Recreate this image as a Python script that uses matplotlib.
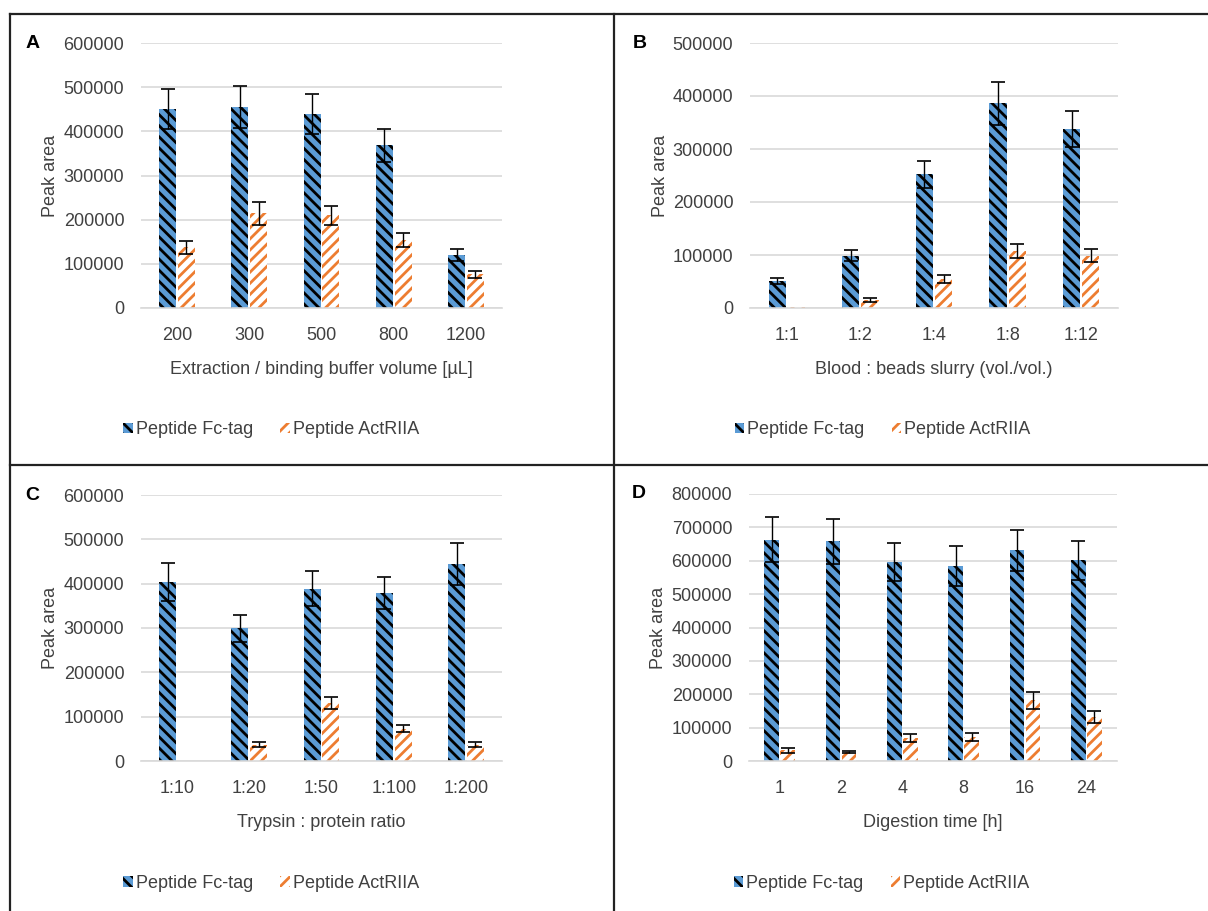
import numpy as np
import matplotlib.pyplot as plt
from matplotlib.lines import Line2D

plt.rcParams['font.family'] = ['Liberation Sans', 'DejaVu Sans']
plt.rcParams['hatch.linewidth'] = 2.0

series_names = ["Peptide Fc-tag", "Peptide ActRIIA"]

# Panel A
a_cats = ["200", "300", "500", "800", "1200"]
a_fc = [450000, 455000, 440000, 368000, 120000]
a_fc_err = [45000, 47000, 45000, 37000, 13000]
a_act = [137000, 215000, 210000, 154000, 76000]
a_act_err = [14000, 26000, 22000, 15000, 8000]

# Panel B
b_cats = ["1:1", "1:2", "1:4", "1:8", "1:12"]
b_fc = [51000, 99000, 252000, 386000, 337000]
b_fc_err = [5000, 11000, 25000, 40000, 34000]
b_act = [1000, 15000, 55000, 108000, 99000]
b_act_err = [np.nan, 3000, 8000, 13000, 12000]

# Panel C
c_cats = ["1:10", "1:20", "1:50", "1:100", "1:200"]
c_fc = [404000, 299000, 389000, 379000, 444000]
c_fc_err = [42000, 30000, 40000, 37000, 47000]
c_act = [0, 37000, 131000, 73000, 37000]
c_act_err = [np.nan, 6000, 14000, 8000, 5000]

# Panel D
d_cats = ["1", "2", "4", "8", "16", "24"]
d_fc = [663000, 658000, 596000, 585000, 631000, 601000]
d_fc_err = [67000, 67000, 58000, 60000, 62000, 59000]
d_act = [32000, 27000, 69000, 72000, 182000, 132000]
d_act_err = [7000, 3000, 12000, 11000, 25000, 17000]

blue = "#5B9BD5"
orange = "#ED7D31"
text_col = "#404040"
fs = 13

W, H = 1208, 911
fig = plt.figure(figsize=(W / 100, H / 100), dpi=100)


def px_axes(x0, y0, x1, y1):
    return fig.add_axes([x0 / W, 1 - y1 / H, (x1 - x0) / W, (y1 - y0) / H])


def panel(ax, letter, cats, fc, fc_err, act, act_err, ymax, xlabel):
    x = np.arange(len(cats))
    w = 0.235
    ax.bar(x - 0.13, fc, w, color=blue, edgecolor="black", linewidth=0,
           hatch="\\\\\\", zorder=2, label=series_names[0])
    ax.bar(x + 0.13, act, w, color="white", edgecolor=orange, linewidth=0,
           hatch="///", zorder=2, label=series_names[1])
    ax.errorbar(x - 0.13, fc, yerr=fc_err, fmt="none", ecolor="black",
                elinewidth=1, capsize=4.7, capthick=1.2, zorder=3)
    ax.errorbar(x + 0.13, act, yerr=act_err, fmt="none", ecolor="black",
                elinewidth=1, capsize=4.7, capthick=1.2, zorder=3)
    ax.set_xlim(-0.5, len(cats) - 0.5)
    ax.set_ylim(0, ymax)
    ticks = np.arange(0, ymax + 1, 100000)
    ax.set_yticks(ticks)
    ax.set_yticklabels([f"{int(v)}" for v in ticks])
    ax.set_xticks(x)
    ax.set_xticklabels(cats)
    ax.grid(axis="y", color="#D9D9D9", linewidth=1.2, zorder=0)
    ax.set_axisbelow(True)
    for s in ["top", "right", "left"]:
        ax.spines[s].set_visible(False)
    ax.spines["bottom"].set_color("#D9D9D9")
    ax.spines["bottom"].set_linewidth(1.2)
    ax.tick_params(length=0, labelsize=fs, labelcolor=text_col)
    ax.tick_params(axis="y", pad=12)
    ax.tick_params(axis="x", pad=14)
    ax.set_xlabel(xlabel, fontsize=fs, color=text_col, labelpad=12)
    ax.set_ylabel("Peak area", fontsize=fs, color=text_col, labelpad=3)
    ax.text(-0.30, 1.0, letter, transform=ax.transAxes, fontsize=14,
            fontweight="bold", ha="center", va="center")
    ax.legend(loc="center", bbox_to_anchor=(0.36, -0.46), ncol=2, frameon=False,
              fontsize=fs, labelcolor=text_col, handlelength=0.55,
              handleheight=0.55, handletextpad=0.15, columnspacing=1.5)


axA = px_axes(141, 43, 502, 308)
panel(axA, "A", a_cats, a_fc, a_fc_err, a_act, a_act_err, 600000,
      "Extraction / binding buffer volume [µL]")
axB = px_axes(750, 43, 1118, 308)
panel(axB, "B", b_cats, b_fc, b_fc_err, b_act, b_act_err, 500000,
      "Blood : beads slurry (vol./vol.)")
axC = px_axes(141, 495, 502, 761)
panel(axC, "C", c_cats, c_fc, c_fc_err, c_act, c_act_err, 600000,
      "Trypsin : protein ratio")
axD = px_axes(749, 494, 1117, 761)
panel(axD, "D", d_cats, d_fc, d_fc_err, d_act, d_act_err, 800000,
      "Digestion time [h]")


# panel frames
def fline(xs, ys):
    fig.add_artist(Line2D([v / W for v in xs], [1 - v / H for v in ys],
                          color="#222222", linewidth=1.6))


fline([10, 1208], [14, 14])
fline([10, 10], [14, 911])
fline([614, 614], [14, 911])
fline([10, 1208], [465, 465])

fig.savefig("out.png", dpi=100)
